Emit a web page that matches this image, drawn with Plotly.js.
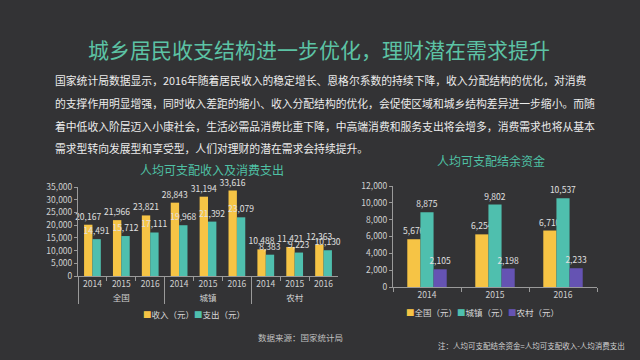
<!DOCTYPE html>
<html><head><meta charset="utf-8">
<script src="https://cdn.plot.ly/plotly-3.0.1.min.js"></script>
<style>html,body{margin:0;padding:0;background:#333335;}#c{width:640px;height:360px;}</style>
</head><body><div id="c"></div>
<script>
const groups = ['全国','全国','全国','城镇','城镇','城镇','农村','农村','农村'];
const years9 = ['2014','2015','2016','2014','2015','2016','2014','2015','2016'];
const income = [20167,21966,23821,28843,31194,33616,10488,11421,12363];
const expense = [14491,15712,17111,19968,21392,23079,8383,9223,10130];
const years3 = ['2014','2015','2016'];
const natSave = [5676,6254,6710];
const urbSave = [8875,9802,10537];
const rurSave = [2105,2198,2233];
const paragraph = [
 '国家统计局数据显示，2016年随着居民收入的稳定增长、恩格尔系数的持续下降，收入分配结构的优化，对消费',
 '的支撑作用明显增强，同时收入差距的缩小、收入分配结构的优化，会促使区域和城乡结构差异进一步缩小。而随',
 '着中低收入阶层迈入小康社会，生活必需品消费比重下降，中高端消费和服务支出将会增多，消费需求也将从基本',
 '需求型转向发展型和享受型，人们对理财的潜在需求会持续提升。'
];
const F = '"Noto Sans CJK SC", "Noto Sans", sans-serif';
const YEL = '#f6c445', TEAL = '#4fbfae', PUR = '#6553b3';
const lbl = {size: 8.5, color: '#e0e0e0', family: F};

function barTrace(name, x, y, color, xa, ya) {
  return {type:'bar', name:name, x:x, y:y, marker:{color:color}, xaxis:xa, yaxis:ya,
    texttemplate:'%{y:,}', textposition:'outside', constraintext:'none', textangle:0,
    textfont:lbl, outsidetextfont:lbl, cliponaxis:false, showlegend:false};
}
const traces = [
 barTrace('收入（元）', [groups, years9], income, YEL, 'x', 'y'),
 barTrace('支出（元）', [groups, years9], expense, TEAL, 'x', 'y'),
 barTrace('全国（元）', years3, natSave, YEL, 'x2', 'y2'),
 barTrace('城镇（元）', years3, urbSave, TEAL, 'x2', 'y2'),
 barTrace('农村（元）', years3, rurSave, PUR, 'x2', 'y2')
];

const axFont = {size: 8.5, color: '#d0d0d0', family: F};
function pa(text, px, py, size, color, anchor) {
  return {text:text, x:px/640, y:1-py/360, xref:'paper', yref:'paper', showarrow:false,
    font:{size:size, color:color, family:F}, xanchor:anchor||'center', yanchor:'middle'};
}
const sq = c => '<span style="color:' + c + '">■</span>';
const annotations = [
 pa('城乡居民收支结构进一步优化，理财潜在需求提升', 319, 49, 21, '#5cc3a5'),
 pa('人均可支配收入及消费支出', 212, 169, 12, '#4fc1a5'),
 pa('人均可支配结余资金', 491, 160, 12, '#4fc1a5'),
 pa(sq(YEL) + '收入（元）' + sq(TEAL) + '支出（元）', 194, 314, 8.5, '#d8d8d8'),
 pa(sq(YEL) + '全国（元）' + sq(TEAL) + '城镇（元）' + sq(PUR) + '农村（元）', 482, 312, 8.5, '#d8d8d8'),
 pa('数据来源：国家统计局', 300, 337, 8.5, '#c0c0c0'),
 pa('注：人均可支配结余资金=人均可支配收入-人均消费支出', 531, 345, 7.5, '#d0d0d0')
];
const lineY = [80, 103, 126, 148];
paragraph.forEach((t, i) => annotations.push(pa(t, 53, lineY[i], 10.8, '#ececec', 'left')));

const layout = {
 width:640, height:360, margin:{l:0,r:0,t:0,b:0},
 paper_bgcolor:'#333335', plot_bgcolor:'rgba(0,0,0,0)',
 font:{family:F, color:'#d0d0d0'}, separators:'.,',
 barmode:'group', bargap:0.42, bargroupgap:0, showlegend:false,
 xaxis:{domain:[78/640, 338/640], anchor:'y', type:'multicategory', tickfont:axFont, tickangle:0, showline:true, linecolor:'#9a9a9a',
  ticks:'outside', tickcolor:'#9a9a9a', ticklen:4, showdividers:true, dividercolor:'#9a9a9a', dividerwidth:1, showgrid:false},
 yaxis:{domain:[1-276/360, 1-187/360], anchor:'x', range:[0,35000], dtick:5000, tickformat:',', tickfont:axFont,
  showline:true, linecolor:'#9a9a9a', ticks:'outside', tickcolor:'#9a9a9a', ticklen:3, showgrid:false, zeroline:false},
 xaxis2:{domain:[393/640, 597/640], anchor:'y2', type:'category', tickfont:axFont, tickangle:0, showline:true, linecolor:'#9a9a9a',
  ticks:'outside', tickson:'boundaries', tickcolor:'#9a9a9a', ticklen:4, showgrid:false},
 yaxis2:{domain:[1-287/360, 1-186/360], anchor:'x2', range:[0,12000], dtick:2000, tickformat:',', tickfont:axFont,
  showline:true, linecolor:'#9a9a9a', ticks:'outside', tickcolor:'#9a9a9a', ticklen:3, showgrid:false, zeroline:false},
 annotations:annotations
};
Plotly.newPlot('c', traces, layout, {displayModeBar:false, staticPlot:true});
</script></body></html>
